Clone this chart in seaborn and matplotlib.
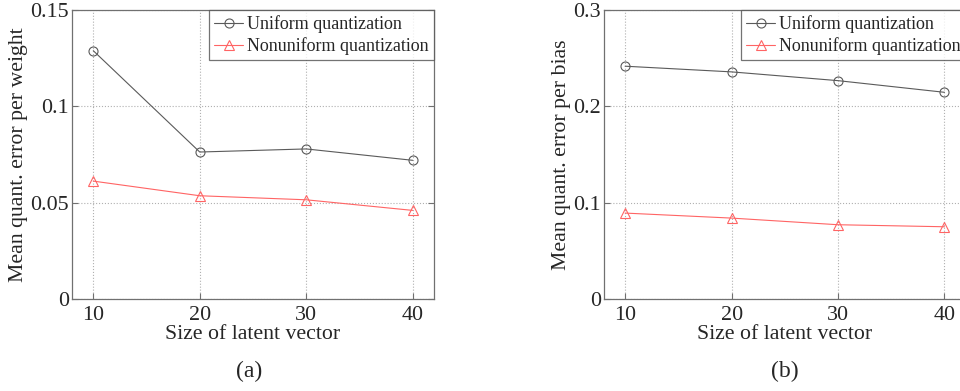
import pandas as pd
import matplotlib
matplotlib.use('Agg')
import matplotlib.pyplot as plt
import seaborn as sns

# Data
latent_size = [10, 20, 30, 40]
weight_uniform = [0.1289, 0.0763, 0.0779, 0.0720]
weight_nonuniform = [0.0612, 0.0536, 0.0515, 0.0460]
bias_uniform = [0.2417, 0.2358, 0.2267, 0.2146]
bias_nonuniform = [0.0892, 0.0840, 0.0771, 0.0750]

series_names = ['Uniform quantization', 'Nonuniform quantization']
series_colors = ['#5a5a5a', '#ff6464']
series_markers = ['o', '^']

sns.set_style('white')
plt.rcParams['font.family'] = ['Liberation Serif', 'DejaVu Serif']

fig = plt.figure(figsize=(9.6, 3.91), dpi=100)
ax_a = fig.add_axes([0.075, 0.2353, 0.377, 0.739])
ax_b = fig.add_axes([0.629, 0.2353, 0.377, 0.739])


def draw_panel(ax, uniform, nonuniform, ylim, yticks, yticklabels, ylabel):
    for name, values, color, marker in zip(series_names, [uniform, nonuniform],
                                           series_colors, series_markers):
        df = pd.DataFrame({'size': latent_size, 'err': values})
        sns.lineplot(data=df, x='size', y='err', ax=ax, color=color,
                     marker=marker, markersize=6.5, markerfacecolor='none',
                     markeredgecolor=color, markeredgewidth=0.8,
                     linewidth=0.8, label=name)
    ax.set_xlim(8, 42)
    ax.set_ylim(*ylim)
    ax.set_xticks(latent_size)
    ax.set_yticks(yticks)
    ax.set_yticklabels(yticklabels)
    ax.grid(True, linestyle=':', color='#b0b0b0', linewidth=0.8)
    for sp in ax.spines.values():
        sp.set_color('#707070')
        sp.set_linewidth(0.9)
    ax.tick_params(axis='both', which='both', direction='in', length=4,
                   color='#707070', labelsize=15.8, pad=5,
                   right=True, top=False, left=True, bottom=True)
    ax.tick_params(axis='y', pad=2)
    ax.set_xlabel('Size of latent vector', fontsize=15.7, labelpad=0)
    ax.set_ylabel(ylabel, fontsize=15.7, labelpad=2)
    leg = ax.legend(loc='upper right', fontsize=13, frameon=True,
                    fancybox=False, borderaxespad=0, handlelength=1.6,
                    handletextpad=0.2, borderpad=0.3, labelspacing=0.2)
    leg.get_frame().set_edgecolor('#505050')
    leg.get_frame().set_linewidth(0.9)


draw_panel(ax_a, weight_uniform, weight_nonuniform, (0, 0.15),
           [0, 0.05, 0.1, 0.15], ['0', '0.05', '0.1', '0.15'],
           'Mean quant. error per weight')
draw_panel(ax_b, bias_uniform, bias_nonuniform, (0, 0.3),
           [0, 0.1, 0.2, 0.3], ['0', '0.1', '0.2', '0.3'],
           'Mean quant. error per bias')

fig.text(0.26, 0.05, '(a)', ha='center', va='center', fontsize=17)
fig.text(0.817, 0.05, '(b)', ha='center', va='center', fontsize=17)

fig.savefig('out.png', dpi=100)
